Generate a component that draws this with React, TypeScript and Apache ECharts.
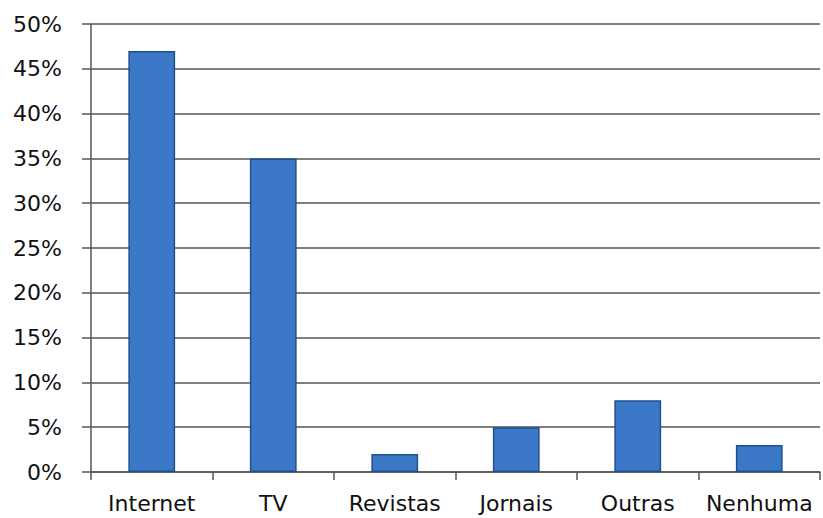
import React, { useEffect, useRef } from "react";
import * as echarts from "echarts";

const categories = ["Internet", "TV", "Revistas", "Jornais", "Outras", "Nenhuma"];
const values = [47, 35, 2, 5, 8, 3];

export default function App() {
  const ref = useRef<HTMLDivElement>(null);
  useEffect(() => {
    const chart = echarts.init(ref.current!, null, { renderer: "svg" });
    chart.setOption({
      animation: false,
      backgroundColor: "#ffffff",
      grid: { left: 91, right: 3, top: 24, bottom: 46, containLabel: false },
      xAxis: {
        type: "category",
        data: categories,
        axisLine: { lineStyle: { color: "#555555", width: 1.5 } },
        axisTick: { show: true, length: 8, alignWithLabel: false, lineStyle: { color: "#555555", width: 1.5 } },
        axisLabel: {
          fontFamily: "DejaVu Sans, sans-serif",
          fontSize: 22,
          color: "#111111",
          margin: 20,
          interval: 0,
        },
      },
      yAxis: {
        type: "value",
        min: 0,
        max: 50,
        interval: 5,
        axisLine: { show: true, lineStyle: { color: "#555555", width: 1.5 } },
        axisTick: { show: true, length: 9, lineStyle: { color: "#555555", width: 1.5 } },
        axisLabel: {
          formatter: "{value}%",
          fontFamily: "DejaVu Sans, sans-serif",
          fontSize: 22,
          color: "#111111",
          margin: 29,
        },
        splitLine: { show: true, lineStyle: { color: "#555555", width: 1.5 } },
      },
      series: [
        {
          type: "bar",
          data: values,
          barWidth: "38.5%",
          itemStyle: { color: "#3c78c8", borderColor: "#1f4f8c", borderWidth: 1.5 },
        },
      ],
    });
    return () => chart.dispose();
  }, []);
  return (
    <div
      ref={ref}
      style={{ position: "fixed", left: 0, top: 0, width: 823, height: 518 }}
    />
  );
}
